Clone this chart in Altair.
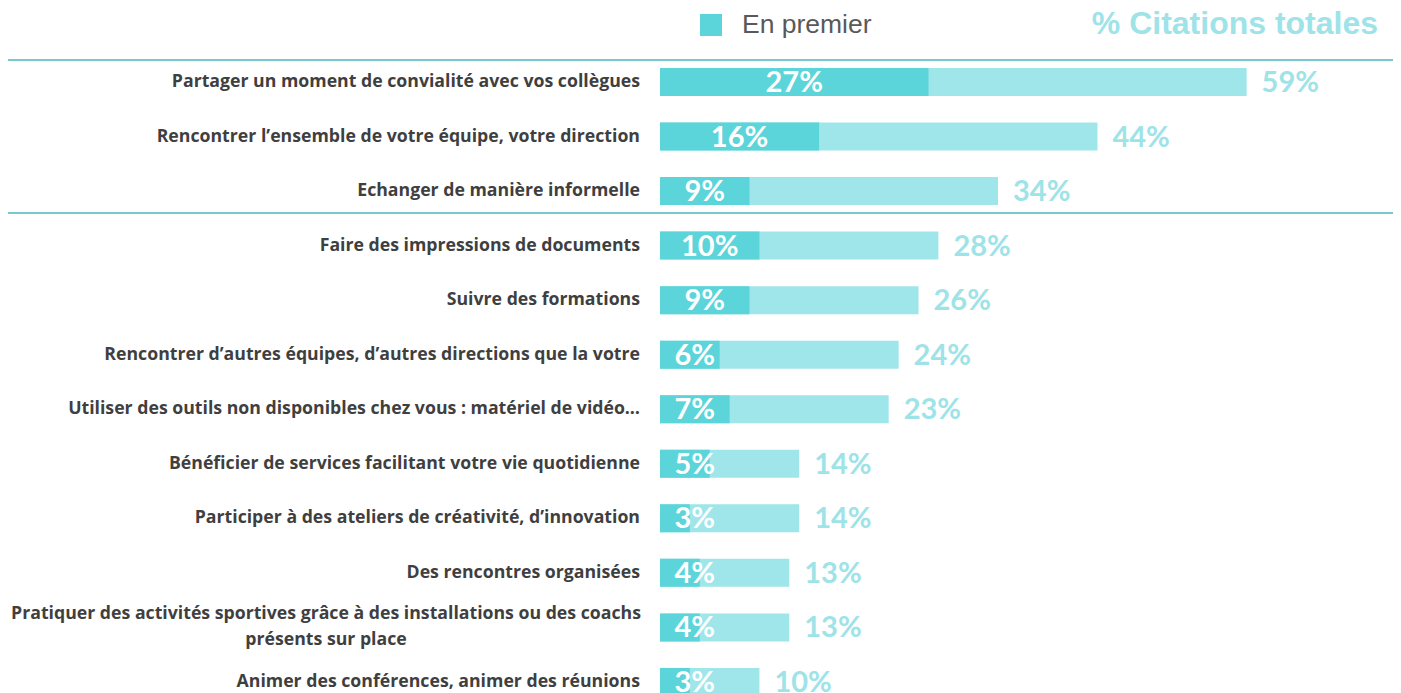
import altair as alt
import pandas as pd

labels = [
    "Partager un moment de convialité avec vos collègues",
    "Rencontrer l\u2019ensemble de votre équipe, votre direction",
    "Echanger de manière informelle",
    "Faire des impressions de documents",
    "Suivre des formations",
    "Rencontrer d\u2019autres équipes, d\u2019autres directions que la votre",
    "Utiliser des outils non disponibles chez vous : matériel de vidéo\u2026",
    "Bénéficier de services facilitant votre vie quotidienne",
    "Participer à des ateliers de créativité, d\u2019innovation",
    "Des rencontres organisées",
    "Pratiquer des activités sportives grâce à des installations ou des coachs\nprésents sur place",
    "Animer des conférences, animer des réunions",
]
first = [27, 16, 9, 10, 9, 6, 7, 5, 3, 4, 4, 3]
total = [59, 44, 34, 28, 26, 24, 23, 14, 14, 13, 13, 10]
legend_texts = ["En premier", "% Citations totales"]

DARK = "#5BD4DA"
LIGHT = "#9FE6EA"
TOTAL_TXT = "#9DE3E8"
LABEL = "#3F3F3F"
BOX = "#4DB6BE"
LEG_TXT = "#595959"

df = pd.DataFrame({
    "label": labels,
    "first": first,
    "total": total,
    "multi": ["\n" in l for l in labels],
})

xsc = alt.Scale(domain=[0, 70], nice=False, zero=True)
ysc = alt.Scale(domain=labels, paddingInner=0, paddingOuter=0)
Y = alt.Y("label:N", sort=labels, scale=ysc, axis=None)

base = alt.Chart(df)

light = base.mark_bar(height=28, color=LIGHT).encode(
    x=alt.X("total:Q", scale=xsc, axis=None), y=Y
)
dark = base.mark_bar(height=28, color=DARK).encode(
    x=alt.X("first:Q", scale=xsc, axis=None), y=Y
)
vals = base.transform_calculate(
    pos="max(datum.first / 2, 3.5)", txt="datum.first + '%'"
).mark_text(
    align="center", baseline="middle", dy=1, font="Lato", fontWeight="bold",
    fontSize=29, color="white"
).encode(x=alt.X("pos:Q", scale=xsc, axis=None), y=Y, text="txt:N")

tots = base.transform_calculate(txt="datum.total + '%'").mark_text(
    align="left", baseline="middle", dx=15, dy=1, font="Lato", fontWeight="bold",
    fontSize=29, color=TOTAL_TXT
).encode(x=alt.X("total:Q", scale=xsc, axis=None), y=Y, text="txt:N")

cats = base.transform_filter("!datum.multi").mark_text(
    align="right", baseline="middle", font="Open Sans", fontWeight="bold",
    fontSize=17.7, color=LABEL
).encode(x=alt.value(-20), y=Y, text="label:N")

cats2 = base.transform_filter("datum.multi").mark_text(
    align="center", baseline="middle", lineBreak="\n", lineHeight=26, dy=-13,
    font="Open Sans", fontWeight="bold", fontSize=17.7, color=LABEL
).encode(x=alt.value(-334), y=Y, text="label:N")

leg_df = pd.DataFrame({"t": legend_texts})
sq = alt.Chart(leg_df).transform_filter("datum.t == 'En premier'").mark_rect(
    color=DARK
).encode(x=alt.value(40), x2=alt.value(62), y=alt.value(-40.7), y2=alt.value(-18.7))

leg1 = alt.Chart(leg_df).transform_filter("datum.t == 'En premier'").mark_text(
    align="left", baseline="middle", font="Liberation Sans", fontSize=26.5,
    color=LEG_TXT
).encode(x=alt.value(82), y=alt.value(-29.7), text="t:N")

leg2 = alt.Chart(leg_df).transform_filter("datum.t != 'En premier'").mark_text(
    align="right", baseline="middle", font="Liberation Sans", fontWeight="bold",
    fontSize=32, color=TOTAL_TXT
).encode(x=alt.value(718), y=alt.value(-31), text="t:N")

box = alt.Chart(pd.DataFrame({"b": [1]})).mark_rect(
    fillOpacity=0, stroke=BOX, strokeWidth=1.3
).encode(x=alt.value(-653), x2=alt.value(760), y=alt.value(5.3), y2=alt.value(158.3))

chart = alt.layer(box, light, dark, vals, tots, cats, cats2, sq, leg1, leg2).properties(
    width=696,
    height=654.5,
    padding={"left": 652, "top": 46.7, "right": 37, "bottom": 5},
    autosize=alt.AutoSizeParams(type="none"),
).configure_view(stroke=None)

chart.save("out.html", embed_options={"renderer": "svg", "actions": False})
